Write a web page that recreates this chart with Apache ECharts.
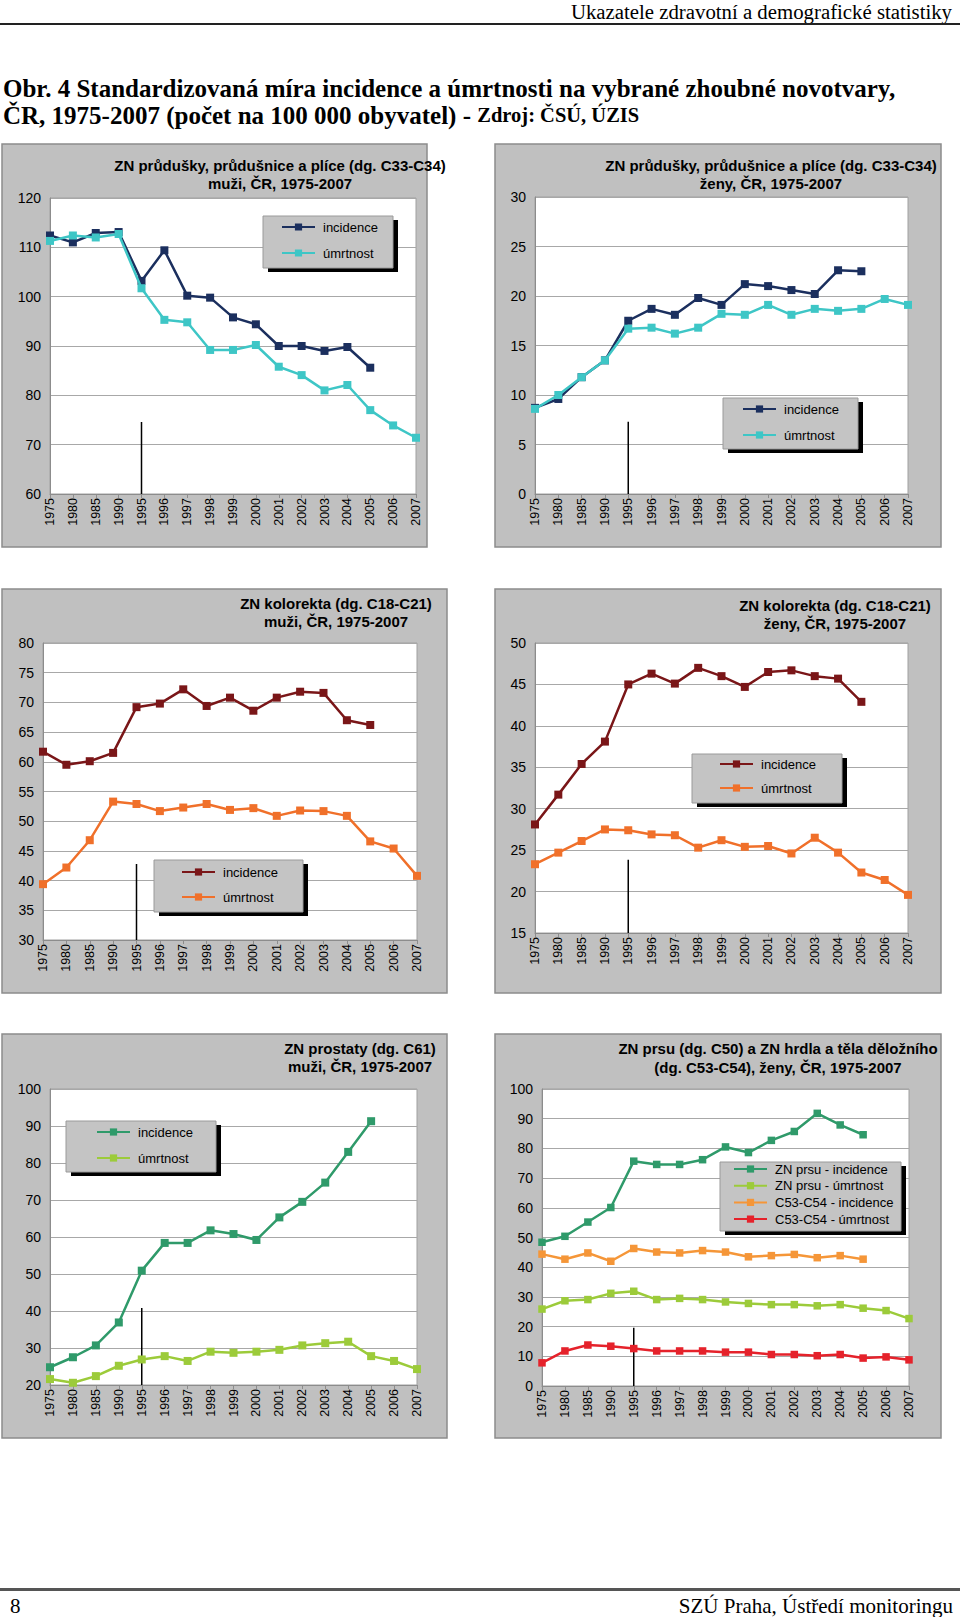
<!DOCTYPE html>
<html>
<head>
<meta charset="utf-8">
<script src="https://cdn.jsdelivr.net/npm/echarts@6/dist/echarts.min.js"></script>
<style>
html,body{margin:0;padding:0;background:#fff;}
#c{width:960px;height:1617px;}
</style>
</head>
<body>
<div id="c"></div>
<script>
// ---------------- DATA ----------------
const years = ['1975','1980','1985','1990','1995','1996','1997','1998','1999','2000','2001','2002','2003','2004','2005','2006','2007'];

const headerText = 'Ukazatele zdravotní a demografické statistiky';
const titleLine1 = 'Obr. 4 Standardizovaná míra incidence a úmrtnosti na vybrané zhoubné novotvary,';
const titleLine2a = 'ČR, 1975-2007 (počet na 100 000 obyvatel) - ';
const titleLine2b = 'Zdroj: ČSÚ, ÚZIS';
const footerLeft = '8';
const footerRight = 'SZÚ Praha, Ústředí monitoringu';

// panel 1: lung, men
const lungMenInc  = [112.4,111.0,112.9,113.1,103.2,109.4,100.2,99.8,95.8,94.4,90.0,90.0,89.0,89.8,85.6,null,null];
const lungMenMort = [111.3,112.4,112.0,112.7,101.7,95.3,94.8,89.2,89.2,90.2,85.8,84.1,81.0,82.1,77.0,73.9,71.4];
// panel 2: lung, women
const lungWomInc  = [8.7,9.6,11.8,13.5,17.5,18.7,18.1,19.8,19.1,21.2,21.0,20.6,20.2,22.6,22.5,null,null];
const lungWomMort = [8.6,10.0,11.8,13.5,16.7,16.8,16.2,16.8,18.2,18.1,19.1,18.1,18.7,18.5,18.7,19.7,19.1];
// panel 3: colorectal, men
const crcMenInc   = [61.7,59.5,60.1,61.5,69.2,69.8,72.2,69.4,70.8,68.6,70.8,71.8,71.6,67.0,66.2,null,null];
const crcMenMort  = [39.4,42.2,46.8,53.3,52.9,51.7,52.3,52.9,51.9,52.2,50.9,51.8,51.7,50.9,46.6,45.4,40.8];
// panel 4: colorectal, women
const crcWomInc   = [28.1,31.7,35.4,38.1,45.0,46.3,45.1,47.0,46.0,44.7,46.5,46.7,46.0,45.7,42.9,null,null];
const crcWomMort  = [23.3,24.7,26.1,27.5,27.4,26.9,26.8,25.3,26.2,25.4,25.5,24.6,26.5,24.7,22.3,21.4,19.6];
// panel 5: prostate, men
const prostInc    = [24.8,27.5,30.7,36.9,50.9,58.4,58.4,61.8,60.8,59.2,65.3,69.5,74.7,83.0,91.3,null,null];
const prostMort   = [21.6,20.6,22.4,25.2,26.9,27.8,26.5,29.0,28.7,29.0,29.5,30.7,31.3,31.7,27.8,26.5,24.3];
// panel 6: breast and cervix/uterus, women
const breastInc   = [48.4,50.4,55.2,60.1,75.7,74.6,74.6,76.2,80.5,78.6,82.7,85.7,91.8,87.9,84.6,null,null];
const breastMort  = [25.9,28.7,29.1,31.2,31.9,29.1,29.5,29.1,28.3,27.8,27.4,27.4,27.0,27.4,26.2,25.4,22.7];
const uterusInc   = [44.4,42.7,44.8,42.0,46.3,45.1,44.8,45.6,45.1,43.5,43.9,44.3,43.2,43.9,42.7,null,null];
const uterusMort  = [7.8,11.8,13.8,13.4,12.6,11.8,11.8,11.8,11.4,11.4,10.6,10.6,10.2,10.6,9.4,9.8,8.8];

// y axis ranges per panel: [min, max, interval]
const yRanges = [[60,120,10],[0,30,5],[30,80,5],[15,50,5],[20,100,10],[0,100,10]];
// 1995 separator mark per panel: category position (index) and top value (bottom = axis min)
const sepIndex = [4, 4, 3.8, 3.86, 3.75, 3.75];
const sepTops = [74.6,7.3,42.8,23.85,40.8,19.6];

const panelTitles = [
  ['ZN průdušky, průdušnice a plíce (dg. C33-C34)','muži, ČR, 1975-2007'],
  ['ZN průdušky, průdušnice a plíce (dg. C33-C34)','ženy, ČR, 1975-2007'],
  ['ZN kolorekta (dg. C18-C21)','muži, ČR, 1975-2007'],
  ['ZN kolorekta (dg. C18-C21)','ženy, ČR, 1975-2007'],
  ['ZN prostaty (dg. C61)','muži, ČR, 1975-2007'],
  ['ZN prsu (dg. C50) a ZN hrdla a těla děložního','(dg. C53-C54), ženy, ČR, 1975-2007']
];
const seriesLabels = [
  ['incidence','úmrtnost'],
  ['incidence','úmrtnost'],
  ['incidence','úmrtnost'],
  ['incidence','úmrtnost'],
  ['incidence','úmrtnost'],
  ['ZN prsu - incidence','ZN prsu - úmrtnost','C53-C54 - incidence','C53-C54 - úmrtnost']
];
const panelSeries = [
  [lungMenInc, lungMenMort],
  [lungWomInc, lungWomMort],
  [crcMenInc, crcMenMort],
  [crcWomInc, crcWomMort],
  [prostInc, prostMort],
  [breastInc, breastMort, uterusInc, uterusMort]
];

// ---------------- LAYOUT / STYLE ----------------
const SANS = 'Liberation Sans, Arial, sans-serif';
const SERIF = 'Liberation Serif, Times New Roman, serif';
const colors = [
  ['#1B2F5E','#3EC6C6'],
  ['#1B2F5E','#3EC6C6'],
  ['#7A1618','#F0702A'],
  ['#7A1618','#F0702A'],
  ['#2F9A6A','#9CCB3A'],
  ['#2F9A6A','#9CCB3A','#F59638','#E5222B']
];
const frames = [
  {x:2,y:144,w:425,h:403},{x:495,y:144,w:446,h:403},
  {x:2,y:589,w:445,h:404},{x:495,y:589,w:446,h:404},
  {x:2,y:1034,w:445,h:404},{x:495,y:1034,w:446,h:404}
];
const grids = [
  {left:50,top:198,width:366,height:296},
  {left:535,top:197,width:373,height:297},
  {left:43,top:643,width:374,height:297},
  {left:535,top:643,width:373,height:290},
  {left:50,top:1089,width:367,height:296},
  {left:542,top:1089,width:367,height:297}
];
const titlePos = [
  {x:280,y1:165,y2:183},{x:771,y1:165,y2:183},
  {x:336,y1:603,y2:621},{x:835,y1:605,y2:623},
  {x:360,y1:1048,y2:1066},{x:778,y1:1048,y2:1067}
];
const legendBoxes = [
  {x:263,y:216,w:130,h:52},{x:723,y:398,w:135,h:51},
  {x:154,y:860,w:149,h:52},{x:692,y:754,w:150,h:49},
  {x:66,y:1121,w:150,h:51},{x:720,y:1162,w:181,h:69}
];
const legendPos = [
  {left:281,top:220,gap:12},{left:742,top:402,gap:12},
  {left:181,top:865,gap:11},{left:719,top:757,gap:10},
  {left:96,top:1125,gap:12},{left:733,top:1162,gap:2.7}
];

// ---------------- BUILD ----------------
const graphic = [];
// header
graphic.push({type:'text', x:952, y:11, z:10, style:{text:headerText, fontFamily:SERIF, fontSize:20.8, fill:'#000', textAlign:'right', textVerticalAlign:'middle'}});
graphic.push({type:'rect', shape:{x:0,y:23,width:960,height:2}, z:10, style:{fill:'#222'}});
graphic.push({type:'text', x:3, y:88, z:10, style:{text:titleLine1, fontFamily:SERIF, fontSize:25, fontWeight:'bold', fill:'#000', textAlign:'left', textVerticalAlign:'middle'}});
graphic.push({type:'text', x:3, y:115, z:10, style:{
  text:'{a|'+titleLine2a+'}{b|'+titleLine2b+'}', textAlign:'left', textVerticalAlign:'middle',
  rich:{a:{fontFamily:SERIF,fontSize:25,fontWeight:'bold',fill:'#000'}, b:{fontFamily:SERIF,fontSize:20.5,fontWeight:'bold',fill:'#000'}}
}});
// footer
graphic.push({type:'rect', shape:{x:0,y:1588,width:960,height:3}, z:10, style:{fill:'#555'}});
graphic.push({type:'text', x:10, y:1606, z:10, style:{text:footerLeft, fontFamily:SERIF, fontSize:21, fill:'#000', textAlign:'left', textVerticalAlign:'middle'}});
graphic.push({type:'text', x:953, y:1606, z:10, style:{text:footerRight, fontFamily:SERIF, fontSize:21, fill:'#000', textAlign:'right', textVerticalAlign:'middle'}});

const gridOpt = [], xAxes = [], yAxes = [], series = [], legends = [];
for (let p = 0; p < 6; p++) {
  const f = frames[p];
  graphic.push({type:'rect', z:-5, shape:{x:f.x,y:f.y,width:f.w,height:f.h}, style:{fill:'#C0C0C0', stroke:'#8C8C8C', lineWidth:1.5}});
  const t = titlePos[p];
  graphic.push({type:'text', x:t.x, y:t.y1, z:10, style:{text:panelTitles[p][0], fontFamily:SANS, fontSize:15, fontWeight:'bold', fill:'#000', textAlign:'center', textVerticalAlign:'middle'}});
  graphic.push({type:'text', x:t.x, y:t.y2, z:10, style:{text:panelTitles[p][1], fontFamily:SANS, fontSize:15, fontWeight:'bold', fill:'#000', textAlign:'center', textVerticalAlign:'middle'}});
  const lb = legendBoxes[p];
  graphic.push({type:'rect', z:3, shape:{x:lb.x+5,y:lb.y+4,width:lb.w,height:lb.h}, style:{fill:'#000'}});
  graphic.push({type:'rect', z:3, z2:1, shape:{x:lb.x,y:lb.y,width:lb.w,height:lb.h}, style:{fill:'#C4C4C4', stroke:'#9A9A9A', lineWidth:1}});

  const g = grids[p];
  gridOpt.push({left:g.left, top:g.top, width:g.width, height:g.height, show:true, backgroundColor:'#fff', borderColor:'#A0A0A0', borderWidth:1, containLabel:false});
  xAxes.push({
    type:'category', gridIndex:p, data:years, boundaryGap:false,
    axisLine:{show:true, lineStyle:{color:'#8C8C8C', width:1}},
    axisTick:{show:true, length:4, inside:false, lineStyle:{color:'#8C8C8C'}, interval:0},
    axisLabel:{rotate:90, interval:0, fontSize:12.5, fontFamily:SANS, color:'#000', margin:4},
    splitLine:{show:false}
  });
  const r = yRanges[p];
  yAxes.push({
    type:'value', gridIndex:p, min:r[0], max:r[1], interval:r[2],
    axisLine:{show:true, lineStyle:{color:'#8C8C8C', width:1}},
    axisTick:{show:false},
    axisLabel:{fontSize:14, fontFamily:SANS, color:'#000', margin:9},
    splitLine:{show:true, lineStyle:{color:'#A8A8A8', width:1}}
  });
  const names = [];
  const labelMap = {};
  panelSeries[p].forEach((arr, i) => {
    const nm = 'p' + p + 's' + i;
    names.push(nm);
    labelMap[nm] = seriesLabels[p][i];
    series.push({
      name:nm, type:'line', xAxisIndex:p, yAxisIndex:p, data:arr,
      symbol:'rect', symbolSize: p === 5 ? 7.5 : 8, showAllSymbol:true, connectNulls:false,
      lineStyle:{color:colors[p][i], width:2.5}, itemStyle:{color:colors[p][i]},
      z: 2 + i * 0.01, animation:false, silent:true
    });
  });
  // 1995 separator mark
  series.push({
    name:'sep' + p, type:'line', xAxisIndex:p, yAxisIndex:p,
    data:[[sepIndex[p], r[0]], [sepIndex[p], sepTops[p]]],
    symbol:'none', lineStyle:{color:'#000', width:1.5}, z:1, animation:false, silent:true
  });
  const lp = legendPos[p];
  legends.push({
    data:names, orient:'vertical', left:lp.left, top:lp.top, padding:0, itemGap:lp.gap,
    itemWidth:33, itemHeight:9, z:5, selectedMode:false,
    formatter: (n) => labelMap[n],
    textStyle:{fontFamily:SANS, fontSize:13, color:'#000', lineHeight:14, padding:[0,0,0,3]}
  });
}

const chart = echarts.init(document.getElementById('c'), null, {renderer:'svg', width:960, height:1617});
chart.setOption({
  animation:false,
  backgroundColor:'#fff',
  graphic: graphic,
  grid: gridOpt,
  xAxis: xAxes,
  yAxis: yAxes,
  legend: legends,
  series: series
});
</script>
</body>
</html>
